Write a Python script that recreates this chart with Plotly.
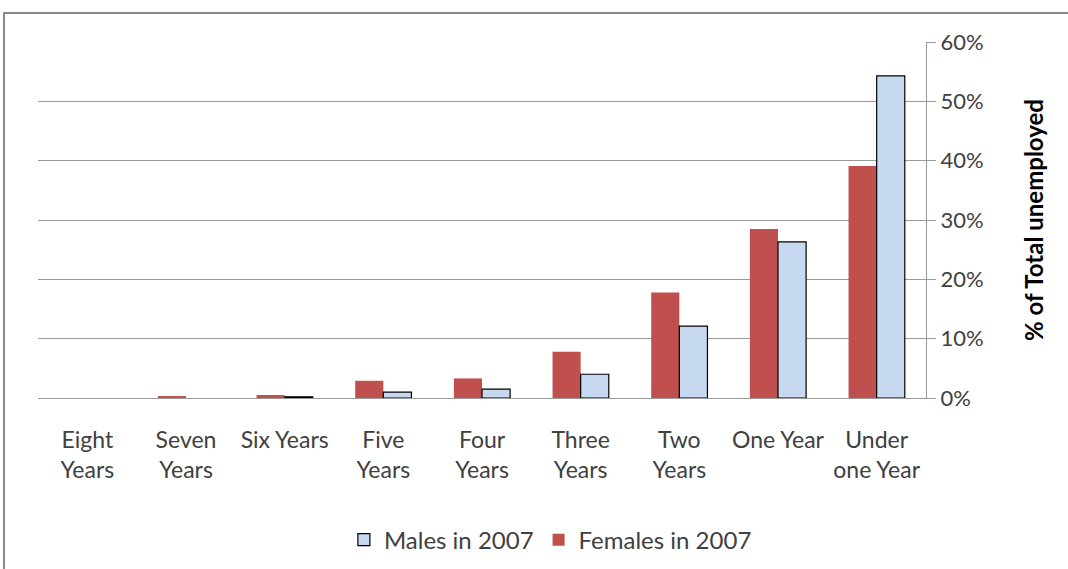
import plotly.graph_objects as go

categories = ["Eight<br>Years", "Seven<br>Years", "Six Years", "Five<br>Years", "Four<br>Years",
              "Three<br>Years", "Two<br>Years", "One Year", "Under<br>one Year"]
males_2007 = [None, None, 0.2, 1.0, 1.5, 4.0, 12.1, 26.3, 54.3]
females_2007 = [0.0, 0.3, 0.5, 2.9, 3.3, 7.8, 17.8, 28.5, 39.1]
y_ticks = [0, 10, 20, 30, 40, 50, 60]
y_ticklabels = [f"{v}%" for v in y_ticks]

FONT = "Lato, 'Open Sans', sans-serif"

fig = go.Figure()
fig.add_trace(go.Bar(x=categories, y=females_2007, name="Females in 2007",
                     marker=dict(color="#C0504D", line=dict(width=0))))
fig.add_trace(go.Bar(x=categories, y=males_2007, name="Males in 2007",
                     marker=dict(color="#C6D9F1", line=dict(color="#000000", width=1.2))))

fig.update_layout(
    width=1068, height=569,
    margin=dict(l=38, r=142, t=42, b=171, autoexpand=False),
    paper_bgcolor="white", plot_bgcolor="white",
    barmode="group", bargap=0.43, bargroupgap=0,
    font=dict(family=FONT, size=22, color="#404040"),
    showlegend=True,
    legend=dict(orientation="h", x=0.577, xanchor="center", y=-0.399, yanchor="middle",
                traceorder="reversed", font=dict(size=24, color="#404040"),
                itemwidth=30, bgcolor="rgba(0,0,0,0)"),
    xaxis=dict(showgrid=False, showline=True, linecolor="#9a9a9a", linewidth=1,
               ticks="", tickfont=dict(size=23, color="#404040"), fixedrange=True,
               ticklabelstandoff=21, automargin=False),
    yaxis=dict(side="right", range=[0, 60], tickvals=y_ticks, ticktext=y_ticklabels,
               showgrid=True, gridcolor="#9a9a9a", gridwidth=1,
               showline=True, linecolor="#9a9a9a", linewidth=1,
               ticks="outside", ticklen=9, tickcolor="#9a9a9a",
               tickfont=dict(size=22, color="#404040"), zeroline=False, automargin=False,
               fixedrange=True,
               title=dict(text="<b>% of Total unemployed</b>", font=dict(size=24, color="#000000"),
                          standoff=43)),
    shapes=[dict(type="rect", xref="paper", yref="paper",
                 x0=-0.0383, x1=1.3, y0=-0.7, y1=1.0815,
                 line=dict(color="#8a8a8a", width=2), fillcolor="rgba(0,0,0,0)", layer="below")],
)

fig.write_html("out.html", config={"displayModeBar": False},
               post_script="document.body.style.margin='0';")
